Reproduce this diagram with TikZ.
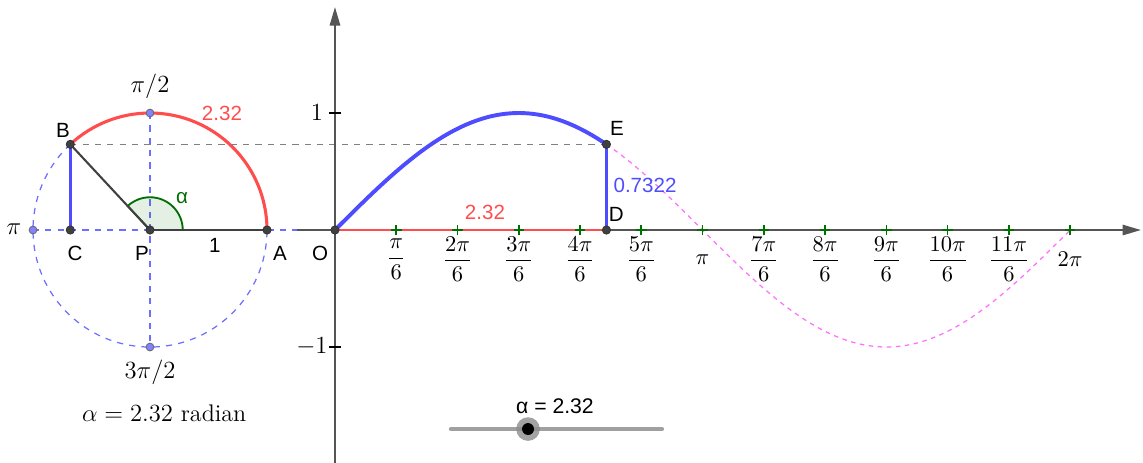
\documentclass[tikz,border=0pt]{standalone}
\usepackage{amsmath}
\usepackage{fontspec}
\newfontfamily\geofont{Liberation Sans}
\usetikzlibrary{calc}
\usetikzlibrary{arrows.meta}

\definecolor{arcred}{RGB}{255,77,77}
\definecolor{curveblue}{RGB}{77,77,255}
\definecolor{dashblue}{RGB}{110,110,255}
\definecolor{dotblue}{RGB}{130,130,255}
\definecolor{sinepink}{RGB}{255,110,255}
\definecolor{axisgray}{RGB}{85,85,85}
\definecolor{tickgreen}{RGB}{0,110,0}
\definecolor{anglegreen}{RGB}{0,110,0}
\definecolor{slidergray}{RGB}{160,160,160}

\begin{document}
\begin{tikzpicture}[
    x=2cm, y=2cm,
    % Define the style for the points
    vertex/.style={circle, draw=black!80, fill=black!75, inner sep=0pt, minimum size=4pt},
    bluevertex/.style={circle, draw=black!60, fill=dotblue, inner sep=0pt, minimum size=3.8pt},
    % Labels in GeoGebra's sans font
    geolbl/.style={font=\geofont\fontsize{10}{12}\selectfont, inner sep=0pt},
    mathlbl/.style={font=\fontsize{11.7}{14}\selectfont, inner sep=0pt},
    axis/.style={axisgray, line width=1pt},
    tip/.style={-{Triangle[length=9pt, width=5pt]}}
]

    % --- Configuration ---
    \def\alp{2.32} % the angle alpha in radians

    \useasboundingbox (-2.863,-1.991) rectangle (6.906,1.966);

    % --- Named points ---
    \coordinate (O) at (0,0);
    \coordinate (P) at (-1.581,0);
    \coordinate (A) at ($(P)+(1,0)$);
    \coordinate (B) at ($(P)+({deg(\alp)}:1)$);
    \coordinate (C) at (B |- P);
    \coordinate (D) at (\alp,0);
    \coordinate (E) at (\alp,{sin(\alp r)});
    \coordinate (Ptop) at ($(P)+(0,1)$);
    \coordinate (Pbot) at ($(P)+(0,-1)$);
    \coordinate (Pleft) at ($(P)+(-1,0)$);
    \coordinate (xl) at (-0.325,0);
    \coordinate (xr) at (6.889,0);
    \coordinate (yb) at (0,-1.991);
    \coordinate (yt) at (0,1.906);

    % --- Unit circle ---
    \draw[dashblue, dashed, line width=0.6pt] (P) circle (1);
    \draw[dashblue, dashed, line width=0.6pt] (Pleft) -- (xl);
    \draw[dashblue, dashed, line width=0.6pt] (Ptop) -- (Pbot);

    % angle sector
    \draw[anglegreen, line width=0.9pt, fill=anglegreen, fill opacity=0.1]
        (P) -- ++(0.28,0) arc[start angle=0, end angle={deg(\alp)}, radius=0.28] -- cycle;

    % arc of length alpha
    \draw[arcred, line width=1.5pt] (A) arc[start angle=0, end angle={deg(\alp)}, radius=1];

    \draw[gray, dashed, line width=0.6pt] (B) -- (E);
    \draw[black!75, line width=1pt] (P) -- (A);
    \draw[black!75, line width=1pt] (P) -- (B);
    \draw[curveblue, line width=1.3pt] (B) -- (C);

    % --- Axes ---
    \draw[axis, tip] (xl) -- (xr);
    \draw[axis, tip] (yb) -- (yt);
    \draw[black, line width=0.8pt] (-0.05,1) -- (0.05,1) (-0.05,-1) -- (0.05,-1);
    \node[mathlbl, anchor=east] (one) at (-0.1,1) {$1$};
    \node[mathlbl, anchor=east] (mone) at (-0.06,-1) {$-1$};

    % --- Sine graph ---
    \draw[sinepink, dashed, line width=0.6pt, dash pattern=on 2.2pt off 2.2pt]
        plot[domain=\alp:2*pi, samples=80] (\x,{sin(\x r)});
    \draw[arcred, line width=1.4pt] (O) -- (D);
    \draw[curveblue, line width=1.3pt] (D) -- (E);
    \draw[curveblue, line width=1.9pt] plot[domain=0:\alp, samples=80] (\x,{sin(\x r)});

    % ticks at multiples of pi/6
    \foreach \k in {1,...,12} {
        \draw[tickgreen, line width=0.8pt] ({\k*pi/6},-0.045) -- ++(0,0.09)
            ({\k*pi/6-0.045},0) -- ++(0.09,0);
    }
    \foreach \k/\t in {1/\dfrac{\pi}{6}, 2/\dfrac{2\pi}{6}, 3/\dfrac{3\pi}{6}, 4/\dfrac{4\pi}{6},
                       5/\dfrac{5\pi}{6}, 6/\pi, 7/\dfrac{7\pi}{6}, 8/\dfrac{8\pi}{6},
                       9/\dfrac{9\pi}{6}, 10/\dfrac{10\pi}{6}, 11/\dfrac{11\pi}{6}, 12/2\pi} {
        \node[font=\fontsize{11}{13}\selectfont] (t\k) at ({\k*pi/6},-0.25) {$\t$};
    }

    % --- Points ---
    \foreach \p in {O, P, A, B, C, D, E} {
        \node[vertex] at (\p) {};
    }
    \foreach \p in {Ptop, Pbot, Pleft} {
        \node[bluevertex] at (\p) {};
    }

    % --- Labels ---
    \node[geolbl] (lB) at (-2.325,0.855) {B};
    \node[geolbl] (lC) at (-2.222,-0.197) {C};
    \node[geolbl] (lP) at (-1.650,-0.197) {P};
    \node[geolbl] (lA) at (-0.470,-0.197) {A};
    \node[geolbl] (lO) at (-0.128,-0.197) {O};
    \node[geolbl] (lD) at (2.405,0.137) {D};
    \node[geolbl] (lE) at (2.41,0.872) {E};
    \node[geolbl] (lone) at (-1.026,-0.128) {1};
    \node[geolbl, anglegreen] (lalpha) at (-1.307,0.274) {α};
    \node[geolbl, arcred] (larc) at (-0.966,1.0) {2.32};
    \node[geolbl, arcred] (lOD) at (1.282,0.154) {2.32};
    \node[geolbl, curveblue] (lDE) at (2.65,0.385) {0.7322};

    \node[mathlbl] (lhalf) at (-1.581,1.231) {$\pi/2$};
    \node[mathlbl] (lpi) at (-2.744,0.01) {$\pi$};
    \node[mathlbl] (lthree) at (-1.581,-1.214) {$3\pi/2$};
    \node[mathlbl] (lalp) at (-1.46,-1.564) {$\alpha = 2.32$ radian};

    % --- Slider ---
    \coordinate (s1) at (0.991,-1.701);
    \coordinate (s2) at (2.795,-1.701);
    \coordinate (knob) at (1.650,-1.701);
    \draw[slidergray, line width=2pt, line cap=round] (s1) -- (s2);
    \node[circle, fill=black!45, fill opacity=0.8, inner sep=0pt, minimum size=11.5pt] at (knob) {};
    \node[circle, fill=black, inner sep=0pt, minimum size=5.8pt] at (knob) {};
    \node[geolbl, font=\geofont\fontsize{10.3}{12}\selectfont] (lslider) at (1.88,-1.504) {α = 2.32};

\end{tikzpicture}
\end{document}
